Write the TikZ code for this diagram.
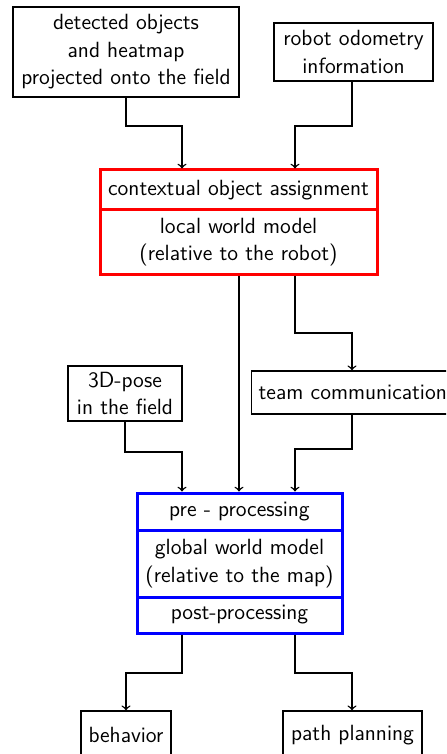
\documentclass[tikz,border=0pt]{standalone}
\begin{document}
\begin{tikzpicture}[x=0.5pt,y=-0.5pt]
\tikzset{
 txt/.style={font=\sffamily\fontsize{11}{13.8}\selectfont, align=center},
 plain/.style={txt, draw, line width=0.7pt, inner sep=0pt},
 redbox/.style={txt, draw=red, line width=1.5pt, inner sep=0pt, minimum width=138.5pt},
 bluebox/.style={txt, draw=blue, line width=1.5pt, inner sep=0pt, minimum width=102.5pt},
 arr/.style={->, line width=0.7pt},
}
\useasboundingbox (0,0) rectangle (446,754);
\clip (0,0) rectangle (446,754);
\coordinate (xa) at (182,0);
\coordinate (xm) at (239,0);
\coordinate (xb) at (295,0);
\coordinate (xc) at (352,0);
\node[plain, minimum width=113pt, minimum height=45pt] (det) at (126,52) {detected objects\\and heatmap\\projected onto the field};
\node[plain, minimum width=79.5pt, minimum height=29pt] (odo) at (353.5,52) {robot odometry\\information};
\node[redbox, minimum height=20pt] (coa) at (238.5,190) {contextual object assignment};
\node[redbox, minimum height=32pt] (lwm) at (238.5,242) {local world model\\(relative to the robot)};
\node[plain, minimum width=57pt, minimum height=27.5pt] (pose) at (125,393.5) {3D-pose\\in the field};
\node[plain, anchor=west, inner xsep=3.5pt, text width=103pt, align=left, minimum height=21.5pt] (team) at (251,392.5) {team communication};
\node[bluebox, minimum height=18.5pt] (pre) at (239.5,511.5) {pre - processing};
\node[bluebox, minimum height=33.5pt] (gwm) at (239.5,563.5) {global world model\\(relative to the map)};
\node[bluebox, minimum height=18pt] (post) at (239.5,615) {post-processing};
\node[plain, minimum width=45pt, minimum height=24pt] (beh) at (126,735) {behavior};
\node[plain, minimum width=69.5pt, minimum height=24pt] (path) at (352.5,735) {path planning};
\draw[arr] (det.south) -- (126,126) -| (coa.north -| xa);
\draw[arr] (odo.south -| xc) -- (352,126) -| (coa.north -| xb);
\draw[arr] (lwm.south -| xm) -- (pre.north -| xm);
\draw[arr] (lwm.south -| xb) -- (295,333) -| (team.north -| xc);
\draw[arr] (pose.south) -- (125,452) -| (pre.north -| xa);
\draw[arr] (team.south -| xc) -- (352,449) -| (pre.north -| xb);
\draw[arr] (post.south -| xa) -- (182,673) -| (beh.north);
\draw[arr] (post.south -| xb) -- (295,673) -| (path.north -| xc);
\end{tikzpicture}
\end{document}
